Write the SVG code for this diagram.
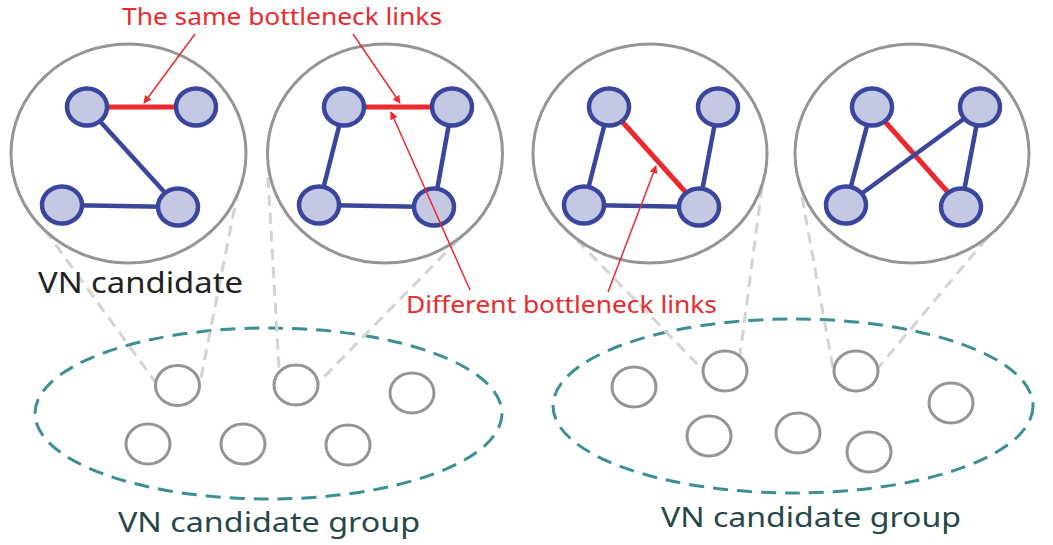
<svg xmlns="http://www.w3.org/2000/svg" width="1053" height="545" viewBox="0 0 1053 545">
  <style>
    .zoom { fill: #ffffff; stroke: #959595; stroke-width: 3; }
    .vn { fill: #c5c8e3; stroke: #3a459c; stroke-width: 4.5; }
    .link { stroke: #3a459c; stroke-width: 4.5; fill: none; }
    .bneck { stroke: #ea2a2f; stroke-width: 5; fill: none; }
    .cand { fill: #ffffff; stroke: #959595; stroke-width: 3; }
    .guide { stroke: #d3d3d3; stroke-width: 3; stroke-dasharray: 11 7; fill: none; }
    .grp { fill: none; stroke: #3d8f93; stroke-width: 3; stroke-dasharray: 15 9; }
    .ptr { stroke: #ea2a2f; stroke-width: 1.5; fill: none; marker-end: url(#head); }
    .red { fill: #ea2a2f; font-family: "Noto Sans", "DejaVu Sans", sans-serif; font-size: 24px; }
    .dark { fill: #222222; font-family: "Noto Sans", "DejaVu Sans", sans-serif; font-size: 29px; }
    .slate { fill: #264848; font-family: "Noto Sans", "DejaVu Sans", sans-serif; font-size: 28px; }
  </style>
  <defs>
    <marker id="head" viewBox="0 0 10 10" refX="9" refY="5" markerWidth="8" markerHeight="8" markerUnits="userSpaceOnUse" orient="auto">
      <path d="M0,0 L10,5 L0,10 z" fill="#ea2a2f"/>
    </marker>
  </defs>

  <!-- candidate groups -->
  <g id="group-left">
    <ellipse class="grp" cx="268.5" cy="413.5" rx="233.5" ry="85.5"/>
    <text class="slate" x="269" y="532" text-anchor="middle" textLength="302" lengthAdjust="spacingAndGlyphs">VN candidate group</text>
  </g>
  <g id="group-right">
    <ellipse class="grp" cx="793" cy="406" rx="240" ry="87"/>
    <text class="slate" x="811" y="527" text-anchor="middle" textLength="300" lengthAdjust="spacingAndGlyphs">VN candidate group</text>
  </g>

  <!-- zoom guides from candidates to their enlarged views -->
  <g id="connectors">
    <line class="guide" x1="45" y1="230" x2="156" y2="383"/>
    <line class="guide" x1="245" y1="155" x2="200" y2="383"/>
    <line class="guide" x1="268" y1="177" x2="279" y2="368"/>
    <line class="guide" x1="458" y1="240" x2="318" y2="383"/>
    <line class="guide" x1="577" y1="240" x2="703" y2="370"/>
    <line class="guide" x1="762" y1="187" x2="740" y2="355"/>
    <line class="guide" x1="802" y1="197" x2="833" y2="368"/>
    <line class="guide" x1="987" y1="238" x2="878" y2="368"/>
  </g>

  <!-- small VN candidates -->
  <g id="cand-l1"><ellipse class="cand" cx="177.5" cy="385.5" rx="22" ry="20"/></g>
  <g id="cand-l2"><ellipse class="cand" cx="296" cy="385" rx="22" ry="20"/></g>
  <g id="cand-l3"><ellipse class="cand" cx="412" cy="393" rx="22" ry="20"/></g>
  <g id="cand-l4"><ellipse class="cand" cx="148" cy="444" rx="22" ry="20"/></g>
  <g id="cand-l5"><ellipse class="cand" cx="243" cy="444" rx="22" ry="20"/></g>
  <g id="cand-l6"><ellipse class="cand" cx="348" cy="445" rx="22" ry="20"/></g>
  <g id="cand-r1"><ellipse class="cand" cx="634" cy="387" rx="22" ry="20"/></g>
  <g id="cand-r2"><ellipse class="cand" cx="725" cy="371" rx="22" ry="20"/></g>
  <g id="cand-r3"><ellipse class="cand" cx="856" cy="371" rx="22" ry="20"/></g>
  <g id="cand-r4"><ellipse class="cand" cx="951" cy="403" rx="22" ry="20"/></g>
  <g id="cand-r5"><ellipse class="cand" cx="709" cy="436" rx="22" ry="20"/></g>
  <g id="cand-r6"><ellipse class="cand" cx="798" cy="433" rx="22" ry="20"/></g>
  <g id="cand-r7"><ellipse class="cand" cx="869" cy="452" rx="22" ry="20"/></g>

  <!-- enlarged VN candidate 1 -->
  <g id="vn-1">
    <ellipse class="zoom" cx="128.5" cy="153.5" rx="117.5" ry="109.5"/>
    <line class="bneck" x1="87" y1="107" x2="196" y2="107"/>
    <line class="link" x1="87" y1="107" x2="178" y2="207"/>
    <line class="link" x1="62" y1="205" x2="178" y2="207"/>
    <ellipse class="vn" cx="87" cy="107" rx="20" ry="18.5"/>
    <ellipse class="vn" cx="196" cy="107" rx="20" ry="18.5"/>
    <ellipse class="vn" cx="62" cy="205" rx="20" ry="18.5"/>
    <ellipse class="vn" cx="178" cy="207" rx="20" ry="18.5"/>
  </g>

  <!-- enlarged VN candidate 2 -->
  <g id="vn-2">
    <ellipse class="zoom" cx="385" cy="153.5" rx="117.5" ry="109.5"/>
    <line class="bneck" x1="344" y1="107" x2="452" y2="107"/>
    <line class="link" x1="344" y1="107" x2="319" y2="205"/>
    <line class="link" x1="452" y1="107" x2="434" y2="207"/>
    <line class="link" x1="319" y1="205" x2="434" y2="207"/>
    <ellipse class="vn" cx="344" cy="107" rx="20" ry="18.5"/>
    <ellipse class="vn" cx="452" cy="107" rx="20" ry="18.5"/>
    <ellipse class="vn" cx="319" cy="205" rx="20" ry="18.5"/>
    <ellipse class="vn" cx="434" cy="207" rx="20" ry="18.5"/>
  </g>

  <!-- enlarged VN candidate 3 -->
  <g id="vn-3">
    <ellipse class="zoom" cx="650" cy="153.5" rx="117" ry="109.5"/>
    <line class="link" x1="609" y1="107" x2="584" y2="205"/>
    <line class="link" x1="718" y1="107" x2="699" y2="207"/>
    <line class="link" x1="584" y1="205" x2="699" y2="207"/>
    <line class="bneck" x1="609" y1="107" x2="699" y2="207"/>
    <ellipse class="vn" cx="609" cy="107" rx="20" ry="18.5"/>
    <ellipse class="vn" cx="718" cy="107" rx="20" ry="18.5"/>
    <ellipse class="vn" cx="584" cy="205" rx="20" ry="18.5"/>
    <ellipse class="vn" cx="699" cy="207" rx="20" ry="18.5"/>
  </g>

  <!-- enlarged VN candidate 4 -->
  <g id="vn-4">
    <ellipse class="zoom" cx="912" cy="153.5" rx="117" ry="109.5"/>
    <line class="link" x1="872" y1="107" x2="846" y2="205"/>
    <line class="link" x1="980" y1="107" x2="961" y2="207"/>
    <line class="bneck" x1="872" y1="107" x2="961" y2="207"/>
    <line class="link" x1="980" y1="107" x2="846" y2="205"/>
    <ellipse class="vn" cx="872" cy="107" rx="20" ry="18.5"/>
    <ellipse class="vn" cx="980" cy="107" rx="20" ry="18.5"/>
    <ellipse class="vn" cx="846" cy="205" rx="20" ry="18.5"/>
    <ellipse class="vn" cx="961" cy="207" rx="20" ry="18.5"/>
  </g>

  <!-- labels and pointers -->
  <g id="label-vn">
    <text class="dark" x="38" y="293" textLength="205" lengthAdjust="spacingAndGlyphs">VN candidate</text>
  </g>
  <g id="label-same">
    <text class="red" x="122" y="25" font-size="23" textLength="320" lengthAdjust="spacingAndGlyphs">The same bottleneck links</text>
  </g>
  <g id="label-diff">
    <text class="red" x="406" y="313" textLength="311" lengthAdjust="spacingAndGlyphs">Different bottleneck links</text>
  </g>
  <g id="pointers">
    <line class="ptr" x1="195" y1="34" x2="144" y2="103"/>
    <line class="ptr" x1="353" y1="34" x2="400" y2="103"/>
    <line class="ptr" x1="470" y1="290" x2="391" y2="112"/>
    <line class="ptr" x1="608" y1="292" x2="656" y2="166"/>
  </g>
</svg>
